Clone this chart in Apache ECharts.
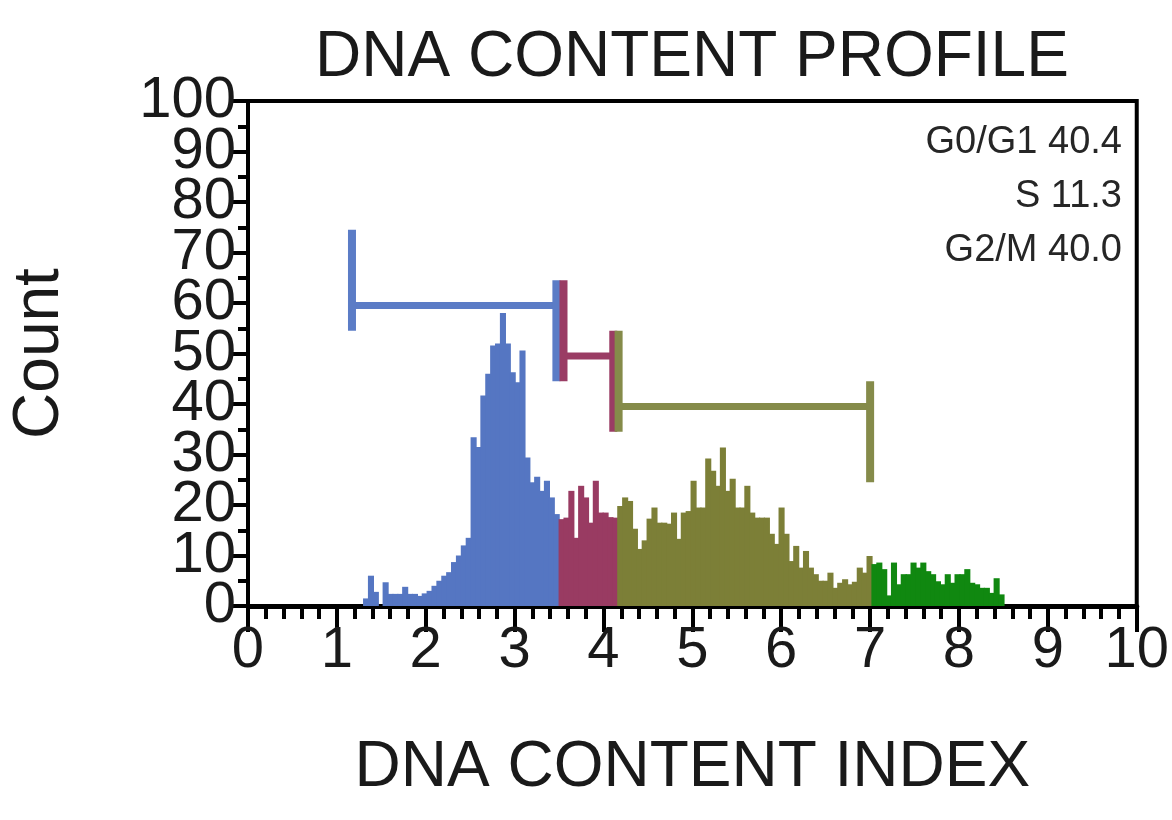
<!DOCTYPE html>
<html>
<head>
<meta charset="utf-8">
<script src="https://cdn.jsdelivr.net/npm/echarts@6/dist/echarts.min.js"></script>
<style>
  html, body { margin: 0; padding: 0; background: #ffffff; }
  #chart { width: 1172px; height: 820px; }
</style>
</head>
<body>
<div id="chart"></div>
<script>
// ---- data ----
const binWidth = 0.055;
const g0g1Start = 1.30;
const g0g1Counts = [1.5, 6, 2.8, 0, 4.7, 2.4, 2.4, 2.4, 3.8, 2.4, 2.4, 2.0, 2.5, 3.0, 4.0, 5.0, 6.0, 6.7, 8.7, 10,
  12, 13.5, 33.4, 31.5, 41.7, 46, 51.6, 52, 58, 52, 46.3, 44.3, 50.6, 29.4, 24.5, 25.6, 22.8, 24.8, 21.5, 18.2];
const sStart = 3.50;
const sCounts = [17.2, 17.5, 22.8, 13.5, 23.8, 21.5, 16.5, 24.8, 18.5, 18.5, 17.6, 17.5];
const g2mStart = 4.16;
const g2mCounts = [19.8, 21.5, 20.8, 15.3, 11.3, 13, 17.3, 19.5, 16.5, 16.5, 16.3, 18.5, 13.3, 18.5, 18.8, 24.8,
  19.5, 19.5, 29.2, 26.8, 23.8, 31.4, 22.8, 25.2, 19.5, 19.5, 23.8, 18.5, 17.5, 17.5, 17.5, 14.3, 12.3, 19.5,
  14.3, 8.9, 11.9, 7.6, 10.9, 7.6, 6.3, 5.0, 5.0, 6.6, 3.6, 4.6, 5.3, 4.3, 4.8, 7.6, 6.6, 9.9];
const tailStart = 7.02;
const tailCounts = [8.3, 8.6, 7.3, 2.1, 8.6, 4.3, 6.3, 6.3, 8.6, 7.6, 8.6, 6.9, 6.3, 4.9, 4.3, 6.3, 4.6, 6.3,
  6.3, 7.3, 4.6, 4.3, 3.6, 3.6, 2.6, 5.5, 2.3];

// gate brackets
const gateNames = ['G0/G1', 'S', 'G2/M'];
const gateFrom = [1.17, 3.55, 4.17];
const gateTo = [3.47, 4.11, 7.00];
const gateLevel = [59.5, 49.5, 39.5];

const statLabels = ['G0/G1 40.4', 'S 11.3', 'G2/M 40.0'];

const xTicks = [0, 1, 2, 3, 4, 5, 6, 7, 8, 9, 10];
// y tick labels (split into two interleaved sets so every one is drawn, as in the reference they overlap)
const yTicksEven = [0, 20, 40, 60, 80, 100];
const yTicksOdd = [10, 30, 50, 70, 90];

// ---- colors ----
const cBlue = '#5576c2';
const cMaroon = '#993b62';
const cOlive = '#7c7f37';
const cGreen = '#108810';
const bracketColors = ['#5b7cc6', '#9a3c64', '#858b4a'];

const FONT = '"Liberation Sans", Arial, sans-serif';

function binData(start, counts) {
  return counts.map((c, i) => [start + i * binWidth, c]);
}

function histSeries(name, start, counts, color) {
  return {
    name: name,
    type: 'custom',
    clip: true,
    xAxisIndex: 0,
    yAxisIndex: 0,
    encode: { x: 0, y: 1 },
    data: binData(start, counts),
    renderItem: function (params, api) {
      const x0 = api.value(0);
      const v = api.value(1);
      const pTop = api.coord([x0, v]);
      const pBot = api.coord([x0 + binWidth, 0]);
      return {
        type: 'rect',
        shape: { x: pTop[0] - 0.5, y: pTop[1], width: pBot[0] - pTop[0] + 1.2, height: pBot[1] - pTop[1] },
        style: { fill: color, stroke: null }
      };
    }
  };
}

const gateData = gateFrom.map((f, i) => [f, gateTo[i], gateLevel[i], i]);

const yLabelStyle = { fontFamily: FONT, fontSize: 58, color: '#1a1a1a', margin: 12 };

const chart = echarts.init(document.getElementById('chart'), null, { renderer: 'canvas' });

const option = {
  backgroundColor: '#ffffff',
  animation: false,
  textStyle: { fontFamily: FONT },
  title: {
    text: 'DNA CONTENT PROFILE',
    left: 310,
    top: 21,
    textStyle: { fontFamily: FONT, fontSize: 64, fontWeight: 'normal', color: '#1a1a1a' }
  },
  grid: {
    left: 248, right: 33, top: 101, bottom: 214,
    show: true, borderColor: '#000', borderWidth: 4, backgroundColor: 'transparent'
  },
  xAxis: {
    type: 'value',
    min: 0, max: 10, interval: 1,
    name: 'DNA CONTENT INDEX',
    nameLocation: 'middle',
    nameGap: 130,
    nameTextStyle: { fontFamily: FONT, fontSize: 64, color: '#1a1a1a' },
    axisLine: { show: true, lineStyle: { color: '#000', width: 5 } },
    axisTick: { show: true, inside: false, length: 26, lineStyle: { color: '#000', width: 4 } },
    minorTick: { show: true, splitNumber: 5, length: 13, lineStyle: { color: '#000', width: 4 } },
    splitLine: { show: false },
    axisLabel: {
      fontFamily: FONT, fontSize: 58, color: '#1a1a1a', margin: 16,
      showMinLabel: true, showMaxLabel: true, hideOverlap: false
    }
  },
  yAxis: [
    {
      type: 'value',
      position: 'left',
      min: 0, max: 100, interval: 10,
      name: 'Count',
      nameLocation: 'middle',
      nameRotate: 90,
      nameGap: 176,
      nameTextStyle: { fontFamily: FONT, fontSize: 64, color: '#1a1a1a' },
      axisLine: { show: true, lineStyle: { color: '#000', width: 4 } },
      axisTick: { show: true, inside: false, length: 16, lineStyle: { color: '#000', width: 4 } },
      minorTick: { show: true, splitNumber: 2, length: 10, lineStyle: { color: '#000', width: 4 } },
      splitLine: { show: false },
      axisLabel: Object.assign({ customValues: yTicksEven, showMinLabel: true, showMaxLabel: true, hideOverlap: false }, yLabelStyle)
    },
    {
      type: 'value',
      position: 'left',
      offset: 0,
      min: 0, max: 100, interval: 10,
      axisLine: { show: false },
      axisTick: { show: false },
      minorTick: { show: false },
      splitLine: { show: false },
      axisLabel: Object.assign({ customValues: yTicksOdd, hideOverlap: false }, yLabelStyle)
    }
  ],
  series: [
    histSeries('G0/G1', g0g1Start, g0g1Counts, cBlue),
    histSeries('S', sStart, sCounts, cMaroon),
    histSeries('G2/M', g2mStart, g2mCounts, cOlive),
    histSeries('>G2/M', tailStart, tailCounts, cGreen),
    {
      name: 'Gates',
      type: 'custom',
      clip: false,
      xAxisIndex: 0,
      yAxisIndex: 0,
      encode: { x: [0, 1], y: 2 },
      data: gateData,
      z: 5,
      renderItem: function (params, api) {
        const f = api.value(0), t = api.value(1), lv = api.value(2), idx = api.value(3);
        const col = bracketColors[idx];
        const a = api.coord([f, lv]);
        const b = api.coord([t, lv]);
        const l0 = api.coord([f, lv - 5]);
        const l1 = api.coord([f, lv + 15]);
        const r0 = api.coord([t, lv - 15]);
        const r1 = api.coord([t, lv + 5]);
        const st = { stroke: col, lineWidth: 7, lineCap: 'butt' };
        return {
          type: 'group',
          children: [
            { type: 'line', shape: { x1: a[0], y1: a[1], x2: b[0], y2: b[1] }, style: st },
            { type: 'line', shape: { x1: l0[0], y1: l0[1], x2: l1[0], y2: l1[1] }, style: { stroke: col, lineWidth: 8 } },
            { type: 'line', shape: { x1: r0[0], y1: r0[1], x2: r1[0], y2: r1[1] }, style: { stroke: col, lineWidth: 8 } }
          ]
        };
      }
    }
  ],
  graphic: statLabels.map((s, i) => ({
    type: 'text',
    right: 50,
    top: 124 + i * 54,
    style: { text: s, fontFamily: FONT, fontSize: 38, fill: '#262626', textAlign: 'right' }
  }))
};

chart.setOption(option);
</script>
</body>
</html>
